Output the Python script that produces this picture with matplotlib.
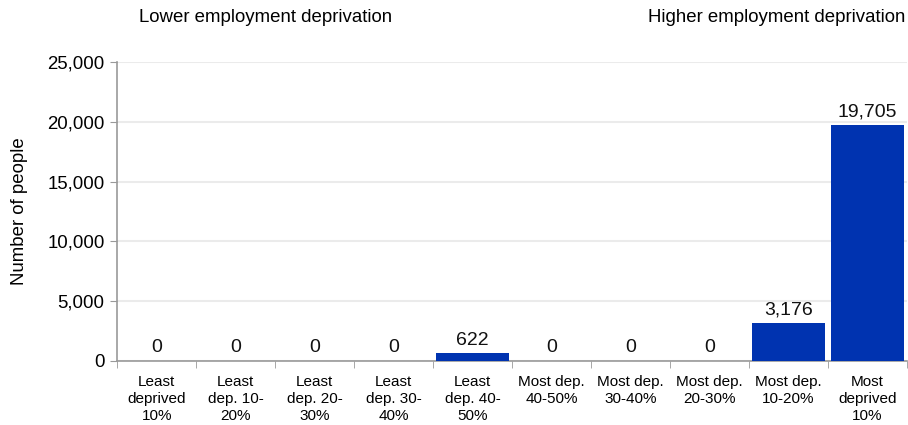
import matplotlib.pyplot as plt
import numpy as np

plt.rcParams['font.family'] = ['Liberation Sans', 'DejaVu Sans']

categories = ['Least\ndeprived\n10%', 'Least\ndep. 10-\n20%', 'Least\ndep. 20-\n30%',
              'Least\ndep. 30-\n40%', 'Least\ndep. 40-\n50%', 'Most dep.\n40-50%',
              'Most dep.\n30-40%', 'Most dep.\n20-30%', 'Most dep.\n10-20%',
              'Most\ndeprived\n10%']
values = [0, 0, 0, 0, 622, 0, 0, 0, 3176, 19705]
yticks = [0, 5000, 10000, 15000, 20000, 25000]

fig = plt.figure(figsize=(9.08, 4.25), dpi=100)
ax = fig.add_axes([0.129, 0.151, 0.870, 0.703])

x = np.arange(len(values))
ax.bar(x, values, width=0.93, color='#0033b0', zorder=3)
for xi, v in zip(x, values):
    ax.text(xi, v + 400, f'{v:,}', ha='center', va='bottom', fontsize=14, color='#111111')

ax.set_xlim(-0.5, len(values) - 0.5)
ax.set_ylim(0, 25000)
ax.set_yticks(yticks)
ax.set_yticklabels([f'{t:,}' for t in yticks], fontsize=13.4)
ax.yaxis.grid(True, color='#ebebeb', linewidth=1.5, zorder=0)
ax.set_axisbelow(True)

ax.set_xticks(x)
ax.set_xticklabels(categories, fontsize=11, linespacing=1.3)
ax.tick_params(axis='x', length=0, pad=10)
ax.set_xticks(np.arange(-0.5, len(values), 1), minor=True)
ax.tick_params(axis='x', which='minor', length=5, color='#999999')
ax.tick_params(axis='y', length=5, color='#999999', pad=4)

for s in ['top', 'right']:
    ax.spines[s].set_visible(False)
for s in ['left', 'bottom']:
    ax.spines[s].set_color('#999999')
    ax.spines[s].set_linewidth(1.2)

ax.set_ylabel('Number of people', fontsize=13.4, labelpad=14)

fig.text(0.292, 0.958, 'Lower employment deprivation', ha='center', va='center', fontsize=13.4)
fig.text(0.997, 0.958, 'Higher employment deprivation', ha='right', va='center', fontsize=13.4)

fig.savefig('out.png', dpi=100)
